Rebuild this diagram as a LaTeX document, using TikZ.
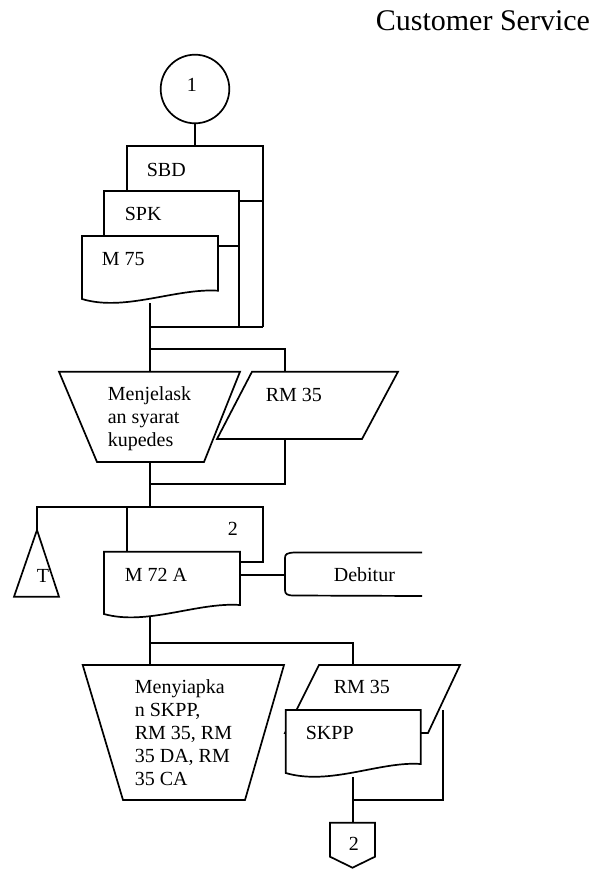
\documentclass[tikz,border=0pt]{standalone}
\usepackage{fontspec}
\setmainfont{Liberation Serif}
\begin{document}
\begin{tikzpicture}[x=1pt,y=-1pt,line width=1.7pt,line join=miter,
  lbl/.style={anchor=base west,inner sep=0pt,font=\fontsize{20}{23}\selectfont},
  multi/.style={lbl,align=left},
  shp/.style={draw,fill=white}]
\useasboundingbox (0,0) rectangle (596,869);

% heading
\node[anchor=base west,inner sep=0pt,font=\fontsize{30}{34}\selectfont] (title) at (375,31) {Customer Service};

% on-page connector 1
\node[draw,circle,minimum size=68.6pt,inner sep=0pt] (c1) at (195,89) {};
\node[lbl] (c1t) at (186,92) {1};

% stacked documents SBD / SPK / M 75
\coordinate (sbdTop) at (195,146);
\draw (127,191) -- (127,146) -- (263,146) -- (263,327);
\draw (104,236) -- (104,191) -- (239,191) -- (239,327);
\draw[shp] (82,236) -- (218,236) -- (218,290.7) .. controls (175,288) and (125,312) .. (82,299) -- cycle;
\node[lbl] (sbd) at (146,176) {SBD};
\node[lbl] (spk) at (124,220) {SPK};
\node[lbl] (m75) at (101,265) {M 75};
\coordinate (m75b) at (150,303);
\coordinate (j1) at (150,327);
\coordinate (j1r) at (263,327);
\draw (c1.south) -- (sbdTop);
\draw (239,200.7) -- (263,200.7);
\draw (218,245.7) -- (239,245.7);
\draw (j1) -- (j1r);

% manual operation: Menjelaskan syarat kupedes
\draw[shp] (59,371.7) -- (240,371.7) -- (204,462) -- (97,462) -- cycle;
\node[multi] (op1) at (107,446) {Menjelask\\an syarat\\kupedes};
\coordinate (op1t) at (150,371.7);
\coordinate (op1b) at (150,462);

% document RM 35 (input/output)
\draw[shp] (252,371.7) -- (398,371.7) -- (362,439) -- (217,439) -- cycle;
\node[lbl] (rm1) at (265,401) {RM 35};
\coordinate (rm1t) at (285,371.7);
\coordinate (rm1b) at (285,439);

\coordinate (j2) at (150,349);
\coordinate (j3) at (150,484);
\coordinate (j4) at (150,507);
\draw (m75b) -- (op1t);
\draw (j2) -| (rm1t);
\draw (rm1b) |- (j3);
\draw (op1b) -- (j4);

% archive T
\draw[shp] (37,530) -- (59,596.7) -- (14,596.7) -- cycle;
\node[lbl] (tt) at (36,582) {T};
\coordinate (tTop) at (37,530);
\coordinate (tCorner) at (37,507);
\draw (127,507) -- (tCorner) -- (tTop);

% M 72 A with copy 2
\draw (127,551.7) -- (127,507) -- (263,507) -- (263,561.7) -- (240,561.7);
\node[lbl] (two) at (227,535) {2};
\draw[shp] (104,551.7) -- (240,551.7) -- (240,605) .. controls (197,602) and (147,626) .. (104,614) -- cycle;
\node[lbl] (m72) at (124,581) {M 72 A};
\coordinate (m72r) at (240,575);
\coordinate (m72b) at (150,616);

% Debitur
\draw (422,552.5) -- (294,552.5) .. controls (287,553) and (285,554) .. (285,558) -- (285,590) .. controls (285,594) and (287,595.5) .. (294,595.5) -- (422,596);
\coordinate (debL) at (285,575);
\node[lbl] (deb) at (333,581.5) {Debitur};
\draw (m72r) -- (debL);

% manual operation: Menyiapkan SKPP ...
\draw[shp] (82.7,665) -- (284,665) -- (245,800) -- (123,800) -- cycle;
\node[multi] (op2) at (134,785) {Menyiapka\\n SKPP,\\RM 35, RM\\35 DA, RM\\35 CA};
\coordinate (op2t) at (150,665);

% RM 35 with SKPP
\draw[shp] (319,665) -- (460,665) -- (428,733) -- (285,733) -- cycle;
\node[lbl] (rm2) at (333,693) {RM 35};
\draw[shp] (285.7,710) -- (420.7,710) -- (420.7,764) .. controls (380,761) and (330,786) .. (285.7,773) -- cycle;
\node[lbl] (skpp) at (305,739) {SKPP};
\coordinate (rm2t) at (353,665);
\coordinate (skppb) at (353,777);
\coordinate (rm2r) at (443,710);
\coordinate (j6) at (353,800);

\coordinate (j5) at (150,642.7);
\draw (m72b) -- (op2t);
\draw (j5) -| (rm2t);
\draw (rm2r) |- (j6);

% off-page connector 2
\draw[shp] (330,822.7) -- (375,822.7) -- (375,856.7) -- (352.5,867.7) -- (330,856.7) -- cycle;
\node[lbl] (p2) at (348,850) {2};
\coordinate (p2t) at (353,822.7);
\draw (skppb) -- (p2t);
\end{tikzpicture}
\end{document}
